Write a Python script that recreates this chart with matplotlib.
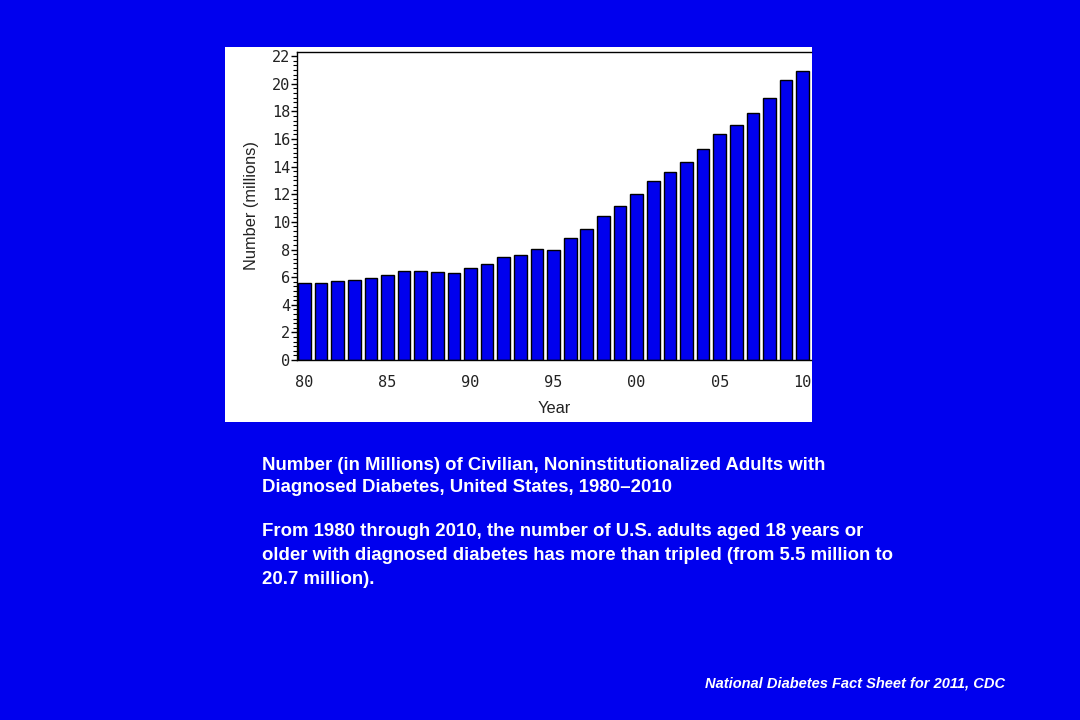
import matplotlib
matplotlib.use("Agg")
import matplotlib.pyplot as plt
from matplotlib.patches import Rectangle
from matplotlib.ticker import AutoMinorLocator

years = list(range(1980, 2011))
values = [5.59, 5.59, 5.69, 5.78, 5.93, 6.19, 6.46, 6.46, 6.36, 6.27,
          6.63, 6.96, 7.47, 7.61, 8.07, 7.97, 8.84, 9.45, 10.46, 11.16,
          12.0, 12.94, 13.6, 14.3, 15.25, 16.34, 17.0, 17.88, 18.99, 20.27,
          20.94]
xtick_years = [1980, 1985, 1990, 1995, 2000, 2005, 2010]
xtick_labels = ["80", "85", "90", "95", "00", "05", "10"]
yticks = list(range(0, 23, 2))

BG = "#0000EE"
BAR = "#0000EE"

fig = plt.figure(figsize=(10.8, 7.2), dpi=100, facecolor=BG)

# white chart panel
panel = Rectangle((225 / 1080, 1 - 422 / 720), (812 - 225) / 1080, (422 - 47) / 720,
                  transform=fig.transFigure, facecolor="white", edgecolor="none", zorder=-5)
fig.patches.append(panel)

ax = fig.add_axes([297 / 1080, 1 - 360 / 720, (811 - 297) / 1080, (360 - 52) / 720])
ax.set_zorder(5)
ax.set_facecolor("white")
ax.bar(years, values, width=0.76, color=BAR, edgecolor="black", linewidth=1.0, zorder=2)
ax.set_xlim(1979.55, 2010.5)
ax.set_ylim(0, 22.3)

ax.set_yticks(yticks)
ax.set_yticklabels([str(v) for v in yticks], fontsize=11, family="DejaVu Sans Mono",
                   color="#222222")
ax.yaxis.set_minor_locator(AutoMinorLocator(6))
ax.tick_params(axis="y", which="major", length=4, width=1, direction="out", pad=1)
ax.tick_params(axis="y", which="minor", length=3, width=0.8, direction="out")
ax.set_xticks(xtick_years)
ax.set_xticklabels(xtick_labels, fontsize=11, family="DejaVu Sans Mono", color="#222222")
ax.tick_params(axis="x", length=0, pad=11)

ax.spines["right"].set_visible(False)
for s in ["left", "bottom", "top"]:
    ax.spines[s].set_linewidth(1.0)
    ax.spines[s].set_color("black")

ax.set_ylabel("Number (millions)", fontsize=11.8, family="Liberation Sans", labelpad=9,
              color="#222222")
ax.set_xlabel("Year", fontsize=11.8, family="Liberation Sans", labelpad=8, color="#222222")

txt = dict(color="white", fontsize=13.4, fontweight="bold", family="Liberation Sans",
           ha="left", va="center")
lines = [
    (465, "Number (in Millions) of Civilian, Noninstitutionalized Adults with"),
    (488, "Diagnosed Diabetes, United States, 1980\u20132010"),
    (532, "From 1980 through 2010, the number of U.S. adults aged 18 years or"),
    (556, "older with diagnosed diabetes has more than tripled (from 5.5 million to"),
    (579, "20.7 million)."),
]
for y, t in lines:
    fig.text(262 / 1080, 1 - y / 720, t, **txt)

fig.text(1005 / 1080, 1 - 684 / 720, "National Diabetes Fact Sheet for 2011, CDC",
         color="white", fontsize=10.5, fontweight="bold", fontstyle="italic",
         family="Liberation Sans", ha="right", va="center")

fig.savefig("out.png", dpi=100, facecolor=BG)
